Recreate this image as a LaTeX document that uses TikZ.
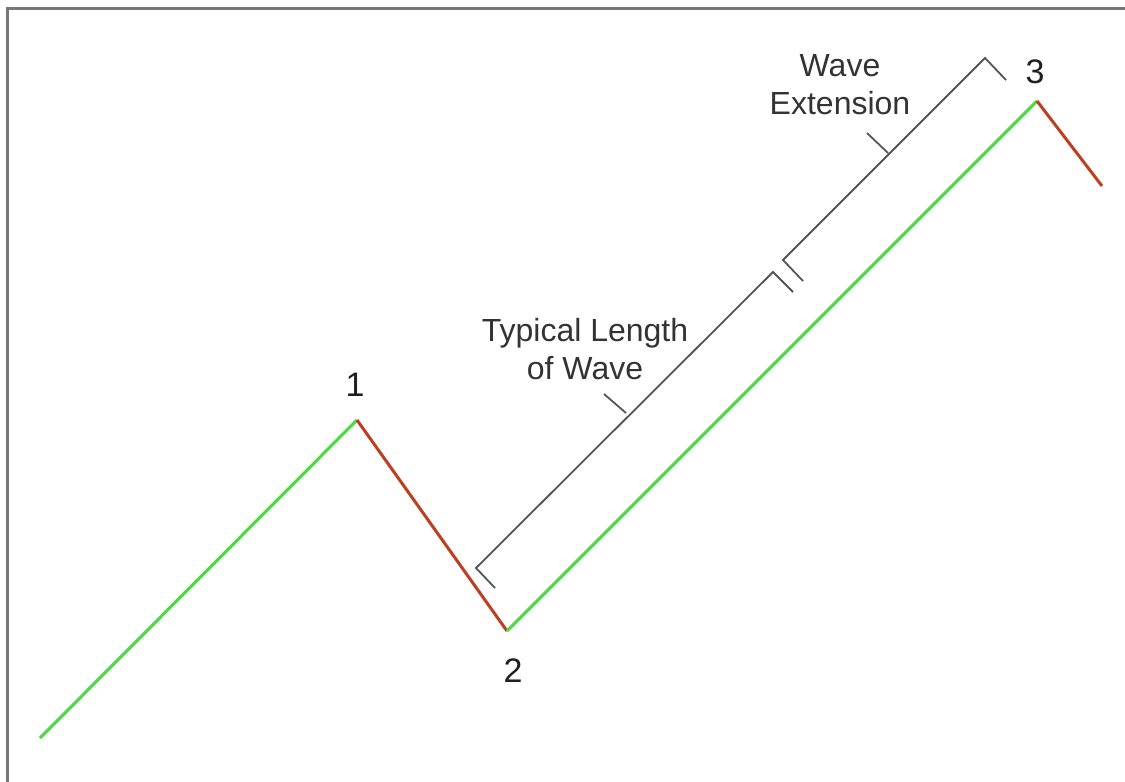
\documentclass[tikz,border=0pt]{standalone}
\usepackage{fontspec}
\setmainfont{Liberation Sans}
\definecolor{upgreen}{RGB}{72,220,60}
\definecolor{downred}{RGB}{190,62,32}
\definecolor{bracketgray}{RGB}{85,85,85}
\definecolor{framegray}{RGB}{120,120,120}
\tikzset{
  upleg/.style={draw=upgreen, line width=3pt},
  downleg/.style={draw=downred, line width=3pt},
  bracket/.style={draw=bracketgray, line width=1.8pt},
  ptlabel/.style={font=\fontsize{34}{40}\selectfont, text=black!88},
  note/.style={font=\fontsize{32}{38}\selectfont, text=black!80, align=center},
}
\begin{document}
\begin{tikzpicture}[x=1pt, y=-1pt]
  \useasboundingbox (0,0) rectangle (1125,782);
  \draw[framegray, line width=3pt] (7,782) -- (7,8) -- (1125,8);

  \coordinate (w0) at (40,738);
  \coordinate (w1) at (357,420);
  \coordinate (w2) at (507,631);
  \coordinate (w3) at (1037,101);
  \coordinate (w4) at (1102,186);

  \node[ptlabel] (n1) at (355,385) {1};
  \node[ptlabel] (n2) at (513,671) {2};
  \node[ptlabel] (n3) at (1035,72) {3};

  \draw[upleg] (w0) -- (w1);
  \draw[downleg] (w1) -- (w2);
  \draw[upleg] (w2) -- (w3);
  \draw[downleg] (w3) -- (w4);

  \coordinate (ta) at (476,568);
  \coordinate (tat) at (495,588);
  \coordinate (tb) at (773,272);
  \coordinate (tbt) at (793,292);
  \coordinate (tm) at (626,413);
  \coordinate (tmt) at (604,394);
  \draw[bracket] (tat) -- (ta) -- (tb) -- (tbt);
  \draw[bracket] (tm) -- (tmt);

  \coordinate (ea) at (783,260);
  \coordinate (eat) at (803,281);
  \coordinate (eb) at (985,58);
  \coordinate (ebt) at (1006,80);
  \coordinate (em) at (888,153);
  \coordinate (emt) at (867,133);
  \draw[bracket] (eat) -- (ea) -- (eb) -- (ebt);
  \draw[bracket] (em) -- (emt);

  \node[note] (typical) at (585,349) {Typical Length\\of Wave};
  \node[note] (ext) at (840,85) {Wave\\Extension};
\end{tikzpicture}
\end{document}
